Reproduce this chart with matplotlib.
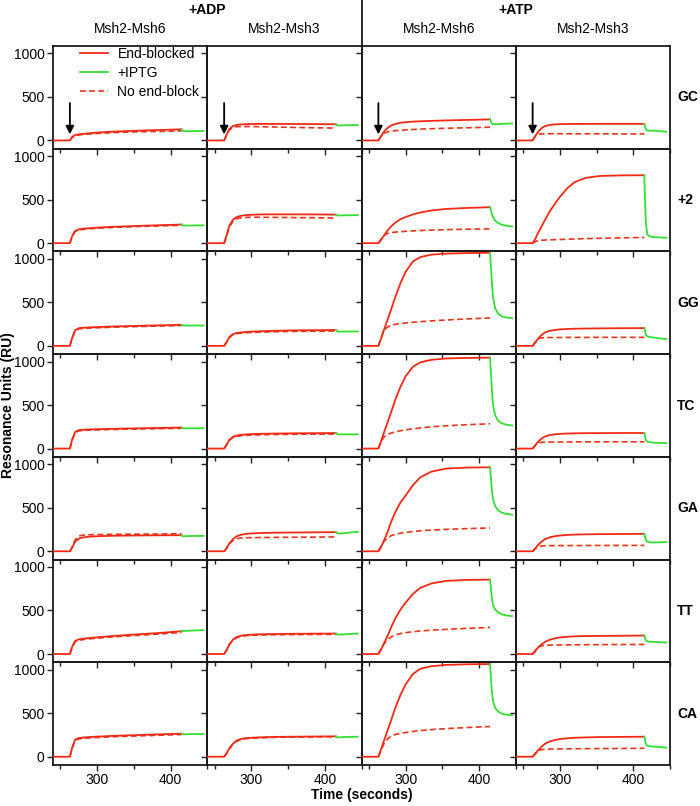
import matplotlib
matplotlib.use('Agg')
import matplotlib.pyplot as plt
from matplotlib.lines import Line2D

plt.rcParams['font.family'] = ['Liberation Sans', 'DejaVu Sans']

# ---------------- data ----------------
ROW_LABELS = ['GC', '+2', 'GG', 'TC', 'GA', 'TT', 'CA']
COL_LABELS = ['Msh2-Msh6', 'Msh2-Msh3', 'Msh2-Msh6', 'Msh2-Msh3']
GROUP_LABELS = ['+ADP', '+ATP']
X_TICKS = [300, 400]
X_MINOR = [250, 350, 450]
Y_TICKS = [0, 500, 1000]

# time (s) of association phase samples and of IPTG (dissociation) samples
T_ASSOC = [240, 263, 266, 270, 275, 280, 286, 293, 300, 310, 320, 335, 355, 385, 415]
T_DISS = [415, 417, 419, 422, 426, 431, 437, 445]
INJECT_T = 263

# each row: four panels (ADP Msh6, ADP Msh3, ATP Msh6, ATP Msh3)
GC_BLOCKED = [
    [0, 0, 40, 62, 70, 75, 80, 85, 90, 96, 100, 106, 112, 120, 128],
    [0, 0, 60, 130, 165, 178, 184, 187, 189, 190, 190, 190, 189, 188, 186],
    [0, 0, 40, 95, 140, 170, 190, 203, 210, 216, 220, 225, 230, 236, 242],
    [0, 0, 40, 95, 140, 165, 178, 184, 187, 189, 190, 190, 191, 191, 191],
]
GC_NOBLOCK = [
    [0, 0, 35, 55, 63, 68, 72, 76, 80, 85, 89, 94, 99, 104, 110],
    [0, 0, 55, 120, 150, 158, 160, 160, 160, 158, 156, 154, 150, 146, 142],
    [0, 0, 40, 80, 98, 106, 112, 117, 121, 126, 130, 135, 140, 146, 152],
    [0, 0, 45, 70, 75, 77, 77, 77, 77, 77, 76, 76, 76, 75, 75],
]
GC_IPTG = [
    [128, 110, 107, 106, 106, 107, 108, 108],
    [186, 172, 172, 173, 174, 175, 176, 176],
    [242, 200, 188, 185, 187, 190, 193, 195],
    [191, 130, 115, 112, 112, 110, 105, 100],
]

P2_BLOCKED = [
    [0, 0, 80, 140, 158, 165, 170, 174, 178, 183, 187, 192, 198, 206, 214],
    [0, 0, 80, 200, 270, 300, 315, 322, 326, 329, 331, 331, 331, 330, 328],
    [0, 0, 30, 80, 140, 190, 235, 275, 300, 330, 352, 375, 393, 405, 413],
    [0, 0, 40, 110, 190, 270, 360, 450, 530, 630, 700, 750, 772, 779, 780],
]
P2_NOBLOCK = [
    [0, 0, 75, 132, 150, 158, 163, 167, 171, 176, 180, 185, 191, 198, 205],
    [0, 0, 75, 185, 250, 280, 292, 296, 298, 298, 297, 296, 294, 292, 289],
    [0, 0, 40, 85, 110, 120, 127, 132, 136, 141, 145, 150, 155, 160, 164],
    [0, 0, 15, 28, 33, 36, 38, 40, 42, 45, 48, 52, 56, 61, 66],
]
P2_IPTG = [
    [214, 203, 202, 202, 203, 203, 204, 204],
    [328, 318, 318, 319, 320, 320, 321, 322],
    [413, 350, 300, 260, 230, 212, 200, 192],
    [780, 250, 100, 80, 72, 68, 65, 62],
]

GG_BLOCKED = [
    [0, 0, 90, 180, 203, 208, 211, 214, 216, 219, 222, 226, 230, 236, 242],
    [0, 0, 40, 100, 135, 148, 155, 160, 163, 167, 170, 174, 177, 180, 183],
    [0, 0, 70, 170, 290, 410, 560, 720, 850, 970, 1020, 1048, 1060, 1066, 1070],
    [0, 0, 30, 80, 125, 155, 172, 183, 189, 194, 197, 199, 201, 203, 204],
]
GG_NOBLOCK = [
    [0, 0, 85, 170, 195, 200, 203, 206, 208, 211, 214, 218, 222, 228, 233],
    [0, 0, 38, 95, 128, 140, 147, 151, 154, 157, 160, 163, 166, 168, 170],
    [0, 0, 70, 170, 215, 235, 247, 256, 263, 271, 278, 287, 297, 310, 321],
    [0, 0, 40, 80, 92, 95, 96, 96, 96, 97, 97, 97, 98, 98, 98],
]
GG_IPTG = [
    [242, 234, 233, 233, 233, 234, 234, 234],
    [183, 166, 164, 164, 164, 165, 165, 166],
    [1070, 800, 560, 430, 370, 340, 325, 318],
    [204, 130, 108, 102, 98, 92, 85, 78],
]

TC_BLOCKED = [
    [0, 0, 100, 190, 212, 216, 219, 221, 223, 225, 227, 230, 233, 237, 242],
    [0, 0, 40, 100, 135, 150, 158, 163, 166, 169, 171, 173, 175, 177, 179],
    [0, 0, 70, 170, 290, 410, 560, 710, 830, 940, 990, 1020, 1035, 1042, 1045],
    [0, 0, 30, 75, 115, 140, 155, 164, 169, 173, 175, 177, 178, 179, 179],
]
TC_NOBLOCK = [
    [0, 0, 95, 180, 203, 208, 211, 213, 215, 217, 219, 222, 225, 229, 233],
    [0, 0, 38, 95, 127, 140, 148, 152, 155, 158, 160, 162, 164, 166, 167],
    [0, 0, 60, 130, 160, 178, 192, 205, 215, 227, 237, 250, 262, 275, 285],
    [0, 0, 35, 65, 72, 74, 75, 75, 76, 76, 77, 77, 78, 78, 78],
]
TC_IPTG = [
    [242, 234, 233, 233, 233, 233, 234, 234],
    [179, 166, 164, 163, 163, 164, 164, 164],
    [1045, 750, 500, 380, 320, 290, 275, 265],
    [179, 100, 80, 74, 70, 67, 64, 62],
]

GA_BLOCKED = [
    [0, 0, 40, 110, 145, 158, 166, 170, 173, 176, 178, 180, 182, 184, 185],
    [0, 0, 30, 90, 140, 172, 190, 200, 205, 209, 212, 214, 216, 218, 220],
    [0, 0, 40, 110, 210, 330, 450, 560, 640, 760, 850, 915, 950, 962, 965],
    [0, 0, 25, 70, 110, 140, 160, 173, 181, 188, 192, 195, 197, 199, 201],
]
GA_NOBLOCK = [
    [0, 0, 45, 130, 175, 185, 189, 191, 192, 194, 195, 196, 197, 199, 201],
    [0, 0, 30, 85, 125, 145, 153, 156, 157, 158, 159, 160, 161, 163, 165],
    [0, 0, 50, 110, 150, 178, 195, 208, 217, 227, 235, 244, 252, 261, 268],
    [0, 0, 30, 55, 62, 64, 65, 65, 66, 66, 66, 67, 67, 67, 68],
]
GA_IPTG = [
    [185, 172, 173, 174, 175, 176, 177, 177],
    [220, 205, 205, 206, 208, 212, 218, 224],
    [965, 750, 600, 520, 470, 445, 430, 421],
    [201, 135, 110, 104, 102, 102, 104, 106],
]

TT_BLOCKED = [
    [0, 0, 80, 150, 168, 175, 181, 187, 192, 199, 206, 215, 226, 242, 262],
    [0, 0, 40, 110, 165, 195, 210, 218, 222, 226, 228, 230, 232, 234, 235],
    [0, 0, 40, 110, 200, 300, 410, 510, 590, 690, 760, 810, 840, 852, 855],
    [0, 0, 25, 70, 110, 140, 163, 180, 190, 198, 203, 206, 208, 210, 212],
]
TT_NOBLOCK = [
    [0, 0, 75, 140, 158, 165, 171, 177, 182, 189, 196, 204, 214, 230, 248],
    [0, 0, 38, 105, 158, 188, 203, 211, 215, 218, 220, 222, 223, 225, 226],
    [0, 0, 50, 110, 160, 195, 220, 235, 245, 256, 265, 274, 283, 295, 306],
    [0, 0, 35, 80, 95, 100, 102, 103, 104, 105, 106, 107, 108, 109, 110],
]
TT_IPTG = [
    [262, 265, 266, 267, 268, 270, 272, 274],
    [235, 224, 223, 224, 226, 228, 231, 235],
    [855, 680, 560, 510, 480, 455, 443, 435],
    [212, 160, 145, 141, 140, 138, 135, 133],
]

CA_BLOCKED = [
    [0, 0, 100, 195, 215, 220, 224, 228, 231, 235, 239, 244, 249, 257, 265],
    [0, 0, 35, 95, 150, 185, 205, 214, 218, 222, 225, 228, 230, 232, 234],
    [0, 0, 70, 170, 290, 410, 560, 710, 830, 950, 1010, 1040, 1055, 1062, 1065],
    [0, 0, 25, 70, 115, 150, 175, 192, 203, 212, 218, 222, 226, 228, 230],
]
CA_NOBLOCK = [
    [0, 0, 95, 185, 205, 210, 214, 218, 221, 225, 229, 234, 239, 247, 255],
    [0, 0, 33, 90, 143, 178, 198, 208, 213, 217, 220, 223, 225, 228, 230],
    [0, 0, 60, 140, 200, 235, 255, 268, 278, 290, 300, 312, 323, 336, 347],
    [0, 0, 35, 70, 82, 86, 88, 89, 90, 91, 92, 93, 94, 95, 97],
]
CA_IPTG = [
    [265, 258, 258, 259, 259, 260, 261, 262],
    [234, 222, 222, 224, 226, 227, 229, 230],
    [1065, 800, 640, 560, 520, 495, 483, 476],
    [230, 150, 125, 120, 118, 114, 110, 105],
]

BLOCKED = [GC_BLOCKED, P2_BLOCKED, GG_BLOCKED, TC_BLOCKED, GA_BLOCKED, TT_BLOCKED, CA_BLOCKED]
NOBLOCK = [GC_NOBLOCK, P2_NOBLOCK, GG_NOBLOCK, TC_NOBLOCK, GA_NOBLOCK, TT_NOBLOCK, CA_NOBLOCK]
IPTG = [GC_IPTG, P2_IPTG, GG_IPTG, TC_IPTG, GA_IPTG, TT_IPTG, CA_IPTG]

# ---------------- style ----------------
RED = '#F02A16'
RED_D = '#E8341C'
GREEN = '#34DE34'
W, H = 700, 806
LEFT, RIGHT, TOP, BOTTOM = 53, 670, 46, 765
XLIM = (240, 450)
YLIM = (-95, 1085)
FS = 10

fig = plt.figure(figsize=(W / 100, H / 100), dpi=100)
pw = (RIGHT - LEFT) / 4
ph = (BOTTOM - TOP) / 7

for r in range(7):
    for c in range(4):
        x0 = LEFT + c * pw
        y0 = TOP + r * ph
        ax = fig.add_axes([x0 / W, 1 - (y0 + ph) / H, pw / W, ph / H])
        ax.plot(T_ASSOC, BLOCKED[r][c], color=RED, lw=1.3, zorder=3)
        ax.plot(T_DISS, IPTG[r][c], color=GREEN, lw=1.3, zorder=3)
        ax.plot(T_ASSOC[1:], NOBLOCK[r][c][1:], color=RED_D, lw=1.2,
                dashes=(3.5, 2.0), zorder=2)
        ax.set_xlim(*XLIM)
        ax.set_ylim(*YLIM)
        ax.set_xticks(X_TICKS)
        ax.set_xticks(X_MINOR, minor=True)
        ax.set_yticks(Y_TICKS)
        ax.tick_params(which='both', direction='out', width=1.0, color='#222222',
                       labelsize=FS, pad=2)
        ax.tick_params(which='major', length=4)
        ax.tick_params(which='minor', length=3)
        ax.tick_params(axis='y', length=4)
        if r < 6:
            ax.tick_params(axis='x', labelbottom=False)
        if c > 0:
            ax.tick_params(axis='y', labelleft=False)
        for s in ax.spines.values():
            s.set_linewidth(1.3)
            s.set_color('#1a1a1a')
        ax.patch.set_alpha(0)
        if r == 0:
            ax.annotate('', xy=(INJECT_T, 70), xytext=(INJECT_T, 430),
                        arrowprops=dict(arrowstyle='-|>', color='black', lw=1.3,
                                        mutation_scale=12, shrinkA=0, shrinkB=0))
        if c == 3:
            ax.text(1.045, 0.5, ROW_LABELS[r], transform=ax.transAxes,
                    ha='left', va='center', fontsize=FS, fontweight='bold')
        if r == 0:
            ax.text(0.5, 1.0 + 17 / ph, COL_LABELS[c], transform=ax.transAxes,
                    ha='center', va='center', fontsize=FS)
        if r == 0 and c == 0:
            handles = [Line2D([], [], color=RED, lw=1.3),
                       Line2D([], [], color=GREEN, lw=1.3),
                       Line2D([], [], color=RED_D, lw=1.2, dashes=(3.5, 2.0))]
            ax.legend(handles, ['End-blocked', '+IPTG', 'No end-block'],
                      loc='upper left', bbox_to_anchor=(0.175, 0.995), frameon=False,
                      fontsize=FS, handlelength=2.0, handletextpad=0.7,
                      labelspacing=0.38, borderpad=0, borderaxespad=0)

# group headers and divider
fig.text((LEFT + pw) / W, 1 - 10 / H, GROUP_LABELS[0], ha='center', va='center',
         fontsize=FS, fontweight='bold')
fig.text((LEFT + 3 * pw) / W, 1 - 10 / H, GROUP_LABELS[1], ha='center', va='center',
         fontsize=FS, fontweight='bold')
fig.add_artist(Line2D([(LEFT + 2 * pw) / W] * 2, [1.0, 1 - TOP / H],
                      color='#1a1a1a', lw=1.3))

fig.text(8.5 / W, 1 - (TOP + BOTTOM) / 2 / H, 'Resonance Units (RU)', rotation=90,
         ha='center', va='center', fontsize=FS, fontweight='bold')
fig.text((LEFT + 2 * pw) / W, 1 - 795 / H, 'Time (seconds)', ha='center', va='center',
         fontsize=FS, fontweight='bold')

fig.savefig('out.png', dpi=100)
